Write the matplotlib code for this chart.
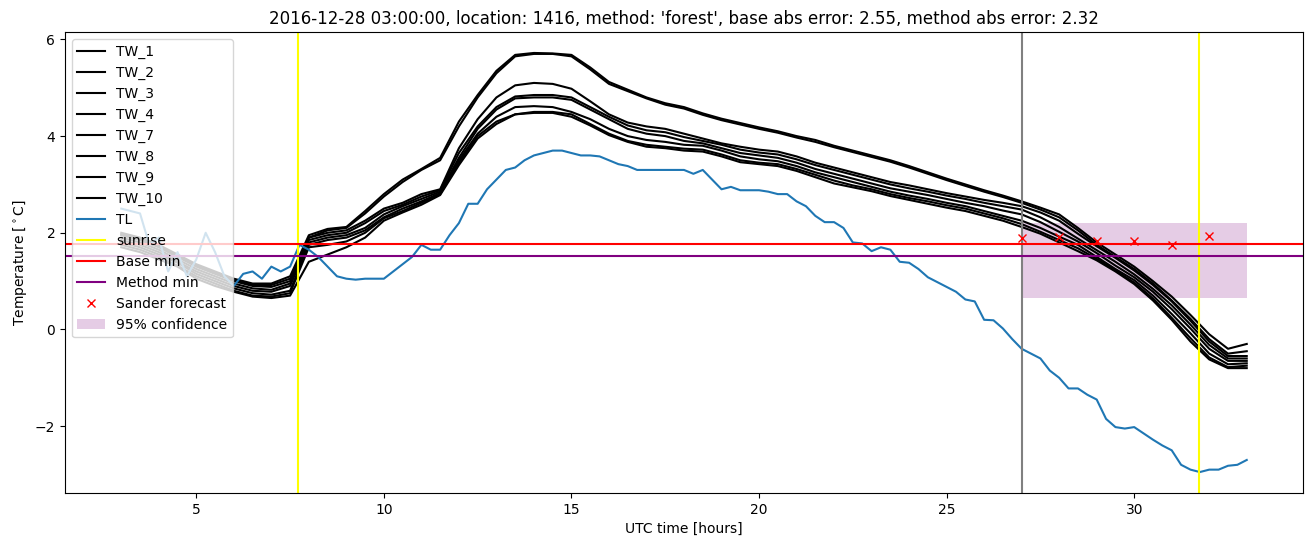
import numpy as np
import matplotlib
matplotlib.use("Agg")
from matplotlib import pyplot as plt

# half-hourly water temperatures (TW) and quarter-hourly air temperature (TL)
tw_hours = np.arange(3.0, 33.01, 0.5)
tl_hours = np.arange(3.0, 33.01, 0.25)

tw_names = ['TW_1', 'TW_2', 'TW_3', 'TW_4', 'TW_7', 'TW_8', 'TW_9', 'TW_10']

tw_1 = [2.0, 1.9, 1.75, 1.55, 1.35, 1.2, 1.05, 0.95, 0.95, 1.1,
        1.95, 2.08, 2.12, 2.45, 2.8, 3.1, 3.32, 3.55, 4.3, 4.85,
        5.35, 5.68, 5.72, 5.71, 5.68, 5.42, 5.12, 4.96, 4.8, 4.68,
        4.6, 4.47, 4.36, 4.27, 4.18, 4.1, 4.0, 3.92, 3.8, 3.7,
        3.6, 3.5, 3.38, 3.25, 3.12, 3.0, 2.88, 2.77, 2.65, 2.52,
        2.38, 2.1, 1.8, 1.55, 1.3, 1.0, 0.68, 0.3, -0.1, -0.4, -0.3]
tw_2 = [1.97, 1.88, 1.72, 1.52, 1.32, 1.18, 1.02, 0.92, 0.92, 1.05,
        1.9, 2.05, 2.1, 2.4, 2.75, 3.05, 3.3, 3.5, 4.2, 4.8,
        5.3, 5.65, 5.7, 5.7, 5.65, 5.38, 5.08, 4.93, 4.78, 4.65,
        4.57, 4.44, 4.33, 4.24, 4.15, 4.07, 3.97, 3.88, 3.77, 3.67,
        3.57, 3.47, 3.35, 3.22, 3.09, 2.97, 2.85, 2.74, 2.62, 2.48,
        2.32, 2.05, 1.75, 1.5, 1.25, 0.95, 0.6, 0.22, -0.2, -0.5, -0.45]
tw_3 = [1.95, 1.85, 1.7, 1.5, 1.3, 1.15, 1.0, 0.9, 0.88, 1.0,
        1.9, 2.0, 2.05, 2.25, 2.5, 2.62, 2.8, 2.9, 3.75, 4.35,
        4.8, 5.05, 5.1, 5.08, 4.98, 4.72, 4.45, 4.28, 4.2, 4.15,
        4.05, 3.95, 3.85, 3.78, 3.72, 3.68, 3.58, 3.45, 3.35, 3.25,
        3.15, 3.05, 2.98, 2.9, 2.82, 2.75, 2.68, 2.62, 2.55, 2.42,
        2.25, 1.98, 1.72, 1.48, 1.22, 0.92, 0.58, 0.18, -0.25, -0.55, -0.55]
tw_4 = [1.9, 1.8, 1.65, 1.45, 1.25, 1.1, 0.95, 0.85, 0.82, 0.95,
        1.85, 1.95, 2.0, 2.2, 2.45, 2.58, 2.75, 2.88, 3.65, 4.2,
        4.6, 4.82, 4.85, 4.85, 4.8, 4.6, 4.4, 4.22, 4.12, 4.08,
        3.98, 3.9, 3.82, 3.72, 3.66, 3.62, 3.52, 3.4, 3.3, 3.2,
        3.1, 3.0, 2.92, 2.85, 2.77, 2.7, 2.62, 2.55, 2.48, 2.32,
        2.12, 1.88, 1.64, 1.4, 1.14, 0.84, 0.5, 0.1, -0.32, -0.6, -0.6]
tw_7 = [1.85, 1.75, 1.6, 1.4, 1.2, 1.05, 0.9, 0.8, 0.78, 0.9,
        1.8, 1.9, 1.95, 2.1, 2.38, 2.55, 2.7, 2.85, 3.55, 4.15,
        4.55, 4.78, 4.8, 4.8, 4.75, 4.55, 4.35, 4.15, 4.05, 4.0,
        3.9, 3.85, 3.75, 3.65, 3.6, 3.55, 3.45, 3.32, 3.22, 3.12,
        3.02, 2.92, 2.85, 2.78, 2.7, 2.62, 2.55, 2.46, 2.38, 2.22,
        2.02, 1.82, 1.58, 1.32, 1.08, 0.78, 0.42, 0.02, -0.4, -0.65, -0.65]
tw_8 = [1.8, 1.7, 1.55, 1.38, 1.15, 1.0, 0.85, 0.75, 0.72, 0.8,
        1.75, 1.85, 1.9, 2.05, 2.32, 2.5, 2.65, 2.82, 3.5, 4.05,
        4.4, 4.6, 4.62, 4.6, 4.5, 4.35, 4.15, 4.0, 3.92, 3.88,
        3.82, 3.8, 3.7, 3.58, 3.52, 3.48, 3.38, 3.25, 3.15, 3.05,
        2.95, 2.85, 2.77, 2.7, 2.62, 2.55, 2.45, 2.35, 2.25, 2.1,
        1.92, 1.75, 1.5, 1.25, 1.02, 0.7, 0.32, -0.08, -0.5, -0.72, -0.7]
tw_9 = [1.75, 1.65, 1.5, 1.32, 1.1, 0.95, 0.8, 0.7, 0.68, 0.75,
        1.7, 1.75, 1.82, 2.0, 2.3, 2.45, 2.62, 2.8, 3.45, 4.0,
        4.3, 4.45, 4.5, 4.5, 4.45, 4.25, 4.05, 3.9, 3.82, 3.78,
        3.74, 3.72, 3.62, 3.5, 3.45, 3.42, 3.32, 3.2, 3.08, 2.98,
        2.9, 2.8, 2.72, 2.65, 2.57, 2.5, 2.4, 2.3, 2.18, 2.02,
        1.85, 1.68, 1.46, 1.22, 0.97, 0.64, 0.24, -0.18, -0.58, -0.78, -0.75]
tw_10 = [1.7, 1.6, 1.45, 1.3, 1.05, 0.9, 0.78, 0.68, 0.65, 0.7,
         1.4, 1.55, 1.7, 1.9, 2.25, 2.42, 2.58, 2.78, 3.4, 3.95,
         4.25, 4.45, 4.48, 4.48, 4.4, 4.22, 4.02, 3.88, 3.78, 3.75,
         3.7, 3.68, 3.58, 3.46, 3.42, 3.38, 3.28, 3.15, 3.02, 2.94,
         2.86, 2.76, 2.68, 2.6, 2.52, 2.45, 2.35, 2.25, 2.12, 1.98,
         1.8, 1.62, 1.43, 1.2, 0.94, 0.6, 0.2, -0.25, -0.62, -0.8, -0.8]
tw_series = [tw_1, tw_2, tw_3, tw_4, tw_7, tw_8, tw_9, tw_10]

tl = [2.5, 2.45, 2.4, 1.75, 1.9, 1.2, 1.6, 1.1, 1.45, 2.0,
      1.6, 1.1, 0.9, 1.15, 1.2, 1.05, 1.3, 1.2, 1.3, 1.75,
      1.65, 1.5, 1.3, 1.1, 1.05, 1.03, 1.05, 1.05, 1.05, 1.2,
      1.35, 1.5, 1.75, 1.65, 1.65, 1.95, 2.2, 2.6, 2.6, 2.9,
      3.1, 3.3, 3.35, 3.5, 3.6, 3.65, 3.7, 3.7, 3.65, 3.6,
      3.6, 3.58, 3.5, 3.42, 3.38, 3.3, 3.3, 3.3, 3.3, 3.3,
      3.3, 3.22, 3.3, 3.1, 2.9, 2.95, 2.88, 2.88, 2.88, 2.85,
      2.8, 2.8, 2.65, 2.55, 2.35, 2.22, 2.22, 2.1, 1.8, 1.78,
      1.62, 1.7, 1.65, 1.4, 1.38, 1.25, 1.08, 0.98, 0.88, 0.78,
      0.62, 0.58, 0.2, 0.19, 0.02, -0.2, -0.4, -0.5, -0.6, -0.85,
      -1.0, -1.22, -1.22, -1.35, -1.45, -1.85, -2.02, -2.05, -2.02, -2.15,
      -2.28, -2.4, -2.5, -2.8, -2.9, -2.95, -2.9, -2.9, -2.82, -2.8,
      -2.7]

sunrise = [7.72, 31.72]
forecast_time = 27.0
base_min = 1.76
method_min = 1.52

sander_hours = [27, 28, 29, 30, 31, 32]
sander_temp = [1.89, 1.91, 1.83, 1.83, 1.74, 1.93]
conf_hours = [27, 33]
conf_low = 0.65
conf_high = 2.2

fig, ax = plt.subplots(figsize=(13.13, 5.47), dpi=100)
plt.subplots_adjust(left=0.0495, right=0.9924, top=0.9415, bottom=0.0987)

for name, vals in zip(tw_names, tw_series):
    ax.plot(tw_hours, vals, color='black', label=name)
ax.plot(tl_hours, tl, label='TL')

ax.axvline(sunrise[0], color='yellow', label='sunrise')
ax.axvline(sunrise[1], color='yellow')
ax.axvline(forecast_time, color='gray')
ax.axhline(base_min, color='red', label='Base min')
ax.axhline(method_min, color='purple', label='Method min')
ax.plot(sander_hours, sander_temp, 'x', color='red', label='Sander forecast')
ax.fill_between(conf_hours, conf_low, conf_high, color='purple', alpha=0.2,
                linewidth=0, label='95% confidence')

ax.set_xlabel('UTC time [hours]')
ax.set_ylabel(r'Temperature [$^\circ$C]')
ax.set_title("2016-12-28 03:00:00, location: 1416, method: 'forest', "
             "base abs error: 2.55, method abs error: 2.32")
ax.legend(loc='upper left')

fig.savefig('out.png')
